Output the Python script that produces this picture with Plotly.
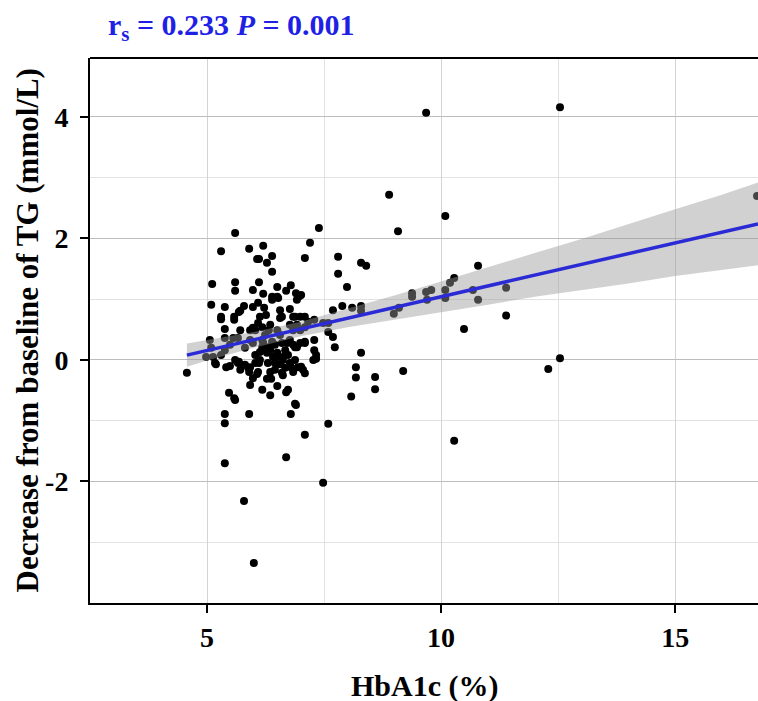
"""Scatter of TG decrease against HbA1c with linear fit and 95% band."""

import plotly.graph_objects as go

# HbA1c (%) and decrease from baseline of TG (mmol/L)
hba1c = [
    4.57, 6.00, 5.79, 5.38, 6.69, 7.48, 7.09, 7.59, 5.38, 5.38, 5.90, 6.79, 6.90, 5.60,
    9.68, 12.54, 16.75, 8.89, 10.09, 9.08, 7.39, 7.20, 7.09, 7.80, 7.80, 7.99, 8.29, 8.40,
    10.79, 10.28, 10.19, 10.09, 10.09, 9.79, 9.68, 9.70, 9.38, 9.38, 10.68, 10.79, 11.39,
    11.39, 10.49, 9.10, 8.99, 8.29, 8.29, 8.10, 7.89, 7.69, 7.29, 7.48, 7.59, 7.59, 7.69,
    7.73, 7.09, 7.01, 7.29, 7.09, 7.29, 7.33, 8.29, 12.54, 12.29, 9.19, 8.18, 8.18, 8.59,
    7.01, 7.09, 8.59, 8.08, 10.28,
    5.60, 5.30, 5.90, 6.20, 6.11, 6.39, 6.28, 6.39, 5.11, 5.60, 5.60, 6.11, 5.98, 6.20,
    6.50, 6.79, 6.69, 6.90, 6.97, 6.39, 6.50, 5.09, 5.38, 5.58, 5.58, 5.71, 5.79, 5.30,
    5.38, 5.98, 6.09, 6.22, 6.39, 6.52, 6.26, 6.56, 6.60, 6.77, 6.92, 6.88, 6.99, 5.98,
    6.09, 5.92, 6.13, 6.32, 6.50, 6.84, 6.92, 5.38, 5.56, 5.66, 5.09, 4.98, 5.13, 5.30,
    5.19, 5.41, 5.49, 5.68, 5.71, 5.88, 5.90, 5.98, 6.07, 6.11, 6.13, 6.18, 6.32, 6.28,
    6.30, 6.41, 6.35, 6.28, 6.37, 6.50, 6.50, 6.56, 6.62, 6.73, 6.84, 6.71, 6.67, 6.79,
    6.77, 6.69, 6.73, 6.94, 6.92, 7.33, 5.47, 5.58,
    5.06, 5.49, 5.81, 6.18, 6.45, 6.77, 6.03, 6.56, 5.71, 6.35, 6.77, 5.38, 6.99, 6.67,
    5.92, 6.24, 5.60, 6.13, 5.81, 6.45, 6.88, 6.62, 5.92, 6.18, 6.35,
    7.09, 7.27, 6.88, 6.09, 6.60, 6.84, 7.05, 6.03, 6.45, 6.62, 6.35, 6.50, 6.88, 5.98,
    6.20, 6.39, 6.60, 6.99, 6.03, 6.18, 6.56, 6.84, 6.92, 7.09, 7.16,
    5.17, 5.66, 5.92, 6.07, 5.68, 5.30,
]
tg_decrease = [
    -0.21, -3.34, -2.32, -1.70, -1.60, -2.02, -1.23, -1.05, -1.04, -0.89, -0.89, -0.89, -0.74, -0.66,
    4.07, 4.16, 2.70, 2.72, 2.37, 2.12, 2.17, 1.93, 1.68, 1.70, 1.42, 1.20, 1.60, 1.55,
    1.55, 1.35, 1.27, 1.15, 1.02, 1.15, 1.12, 0.99, 1.10, 1.04, 1.15, 0.99, 1.19,
    0.73, 0.51, 0.86, 0.76, 0.89, 0.81, 0.86, 0.89, 0.82, 0.66, 0.61, 0.61, 0.46, 0.38,
    0.21, 0.71, 1.07, 0.33, 0.28, 0.16, 0.02, 0.12, 0.03, -0.15, -0.18, -0.12, -0.29, -0.28,
    -0.11, -0.22, -0.48, -0.60, -1.33,
    2.09, 1.79, 1.83, 1.88, 1.66, 1.71, 1.60, 1.45, 1.25, 1.28, 1.14, 1.28, 1.15, 1.09,
    1.20, 1.23, 1.14, 1.10, 1.05, 1.04, 1.04, 0.91, 0.87, 0.71, 0.66, 0.81, 0.89, 0.67,
    0.51, 0.87, 0.94, 0.86, 0.99, 1.02, 0.74, 0.82, 0.71, 0.84, 0.99, 0.71, 0.71, 0.53,
    0.61, 0.49, 0.71, 0.49, 0.49, 0.49, 0.58, 0.36, 0.36, 0.36, 0.20, 0.05, 0.05, 0.08,
    -0.07, -0.12, -0.10, -0.03, -0.16, -0.13, -0.20, -0.30, -0.23, -0.05, 0.13, 0.21, 0.21, 0.12,
    -0.05, 0.05, -0.20, -0.31, -0.31, -0.43, 0.05, -0.07, 0.05, 0.08, 0.25, 0.28, -0.13, -0.12,
    -0.05, -0.53, -0.49, -0.12, 0.21, 0.08, -0.54, -0.63,
    0.33, 0.25, 0.20, 0.33, 0.25, 0.33, 0.08, 0.41, 0.49, 0.58, 0.58, 0.16, 0.49, 0.16,
    0.33, 0.41, 0.00, 0.00, -0.08, -0.16, 0.00, -0.25, -0.41, -0.49, -0.58,
    0.30, 0.00, -0.72, -0.20, -0.21, -0.20, -0.16, -0.05, -0.05, 0.00, 0.16, 0.12, 0.21, 0.28,
    0.28, 0.30, 0.28, 0.28, 0.49, 0.54, 0.69, 0.71, 0.53, 0.54, 0.63,
    -0.05, -0.05, -0.12, 1.66, 0.79, 0.71,
]

# fitted line and its confidence band
fit_x = [4.57, 5, 6, 7, 8, 9, 10, 11, 12, 13, 14, 15, 16, 16.77]
fit_y = [0.08, 0.16, 0.33, 0.51, 0.69, 0.86, 1.04, 1.22, 1.40, 1.57, 1.75, 1.93, 2.10, 2.24]
band_upper = [0.27, 0.33, 0.46, 0.63, 0.84, 1.06, 1.29, 1.53, 1.76, 1.99, 2.24, 2.48, 2.72, 2.92]
band_lower = [-0.11, -0.01, 0.20, 0.39, 0.54, 0.66, 0.79, 0.91, 1.04, 1.15, 1.26, 1.38, 1.48, 1.56]

x_ticks = [5, 10, 15]
y_ticks = [-2, 0, 2, 4]
y_tick_text = ["-2", "0", "2", "4"]

FONT = "Liberation Serif, Times New Roman, serif"
W, H = 758, 701

fig = go.Figure()
fig.add_trace(go.Scatter(
    x=hba1c, y=tg_decrease, mode="markers",
    marker=dict(color="black", size=8, line=dict(width=0)),
    showlegend=False, hoverinfo="x+y",
))
fig.add_trace(go.Scatter(
    x=fit_x + fit_x[::-1], y=band_upper + band_lower[::-1],
    fill="toself", fillcolor="rgba(153,153,153,0.45)",
    line=dict(width=0), mode="lines", showlegend=False, hoverinfo="skip",
))
fig.add_trace(go.Scatter(
    x=[fit_x[0], fit_x[-1]], y=[fit_y[0], fit_y[-1]], mode="lines",
    line=dict(color="#2b2bd6", width=3.5), showlegend=False,
))

axis_common = dict(
    showline=True, linecolor="black", linewidth=2,
    ticks="outside", ticklen=8, tickwidth=2, tickcolor="black",
    tickfont=dict(family=FONT, size=28, color="black", weight="bold"),
    zeroline=False, automargin=False,
)

fig.update_layout(
    width=W, height=H,
    margin=dict(l=90, r=0, t=58, b=98),
    paper_bgcolor="white", plot_bgcolor="white",
    font=dict(family=FONT, color="black"),
    title=dict(
        text="r<sub>s</sub> = 0.233 <i>P</i> = 0.001",
        font=dict(family=FONT, size=30, color="#1f1fe6", weight="bold"),
        x=108 / W, xanchor="left", xref="container",
        y=1 - 24 / H, yanchor="middle", yref="container",
    ),
    xaxis=dict(
        **axis_common,
        range=[2.5, 16.77], tickvals=x_ticks,
        showgrid=True, gridcolor="#d3d3d3", gridwidth=1,
        minor=dict(tickvals=[7.5, 12.5], showgrid=True, gridcolor="#e2e2e2", ticks=""),
    ),
    yaxis=dict(
        **axis_common,
        range=[-4.0, 4.97], tickvals=y_ticks, ticktext=y_tick_text,
        ticklabelstandoff=6,
        showgrid=True, gridcolor="#bdbdbd", gridwidth=1,
        minor=dict(tickvals=[-3, -1, 1, 3], showgrid=True, gridcolor="#e2e2e2", ticks=""),
    ),
    annotations=[
        dict(text="HbA1c (%)", xref="paper", yref="paper",
             x=0.5, y=-0.152, xanchor="center", yanchor="middle", showarrow=False,
             font=dict(family=FONT, size=30, color="black", weight="bold")),
        dict(text="Decrease from baseline of TG (mmol/L)", xref="paper", yref="paper",
             x=-0.093, y=0.5, xanchor="center", yanchor="middle", showarrow=False,
             textangle=-90,
             font=dict(family=FONT, size=31, color="black", weight="bold")),
    ],
)
# top border of the panel
fig.add_shape(type="line", xref="paper", yref="paper", x0=0, x1=1, y0=1, y1=1,
              line=dict(color="black", width=2))

# drop the default page margin so the figure fills the window exactly
fig.write_html(
    "out.html",
    config={"displayModeBar": False},
    post_script="document.body.style.margin='0';document.body.style.overflow='hidden';",
)
